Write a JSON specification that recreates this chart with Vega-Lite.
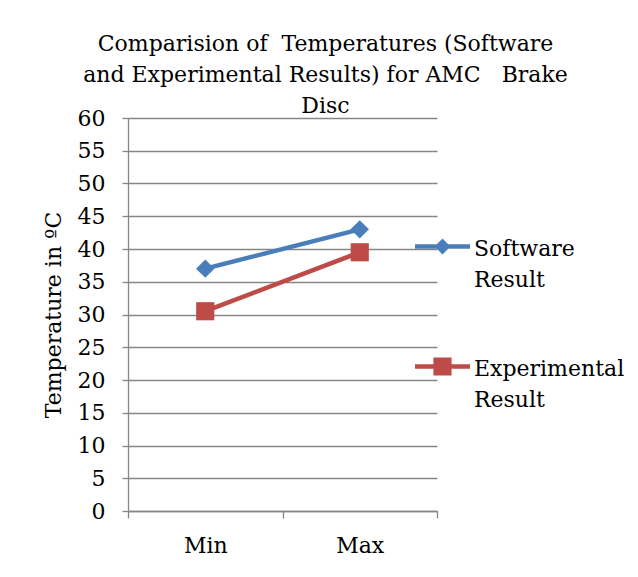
{
  "$schema": "https://vega.github.io/schema/vega-lite/v6.json",
  "width": 309,
  "height": 393,
  "autosize": "none",
  "padding": {"left": 128, "top": 118, "right": 201, "bottom": 66},
  "background": "white",
  "title": {
    "text": ["Comparision of\u00a0 Temperatures (Software", "and Experimental Results) for AMC\u00a0\u00a0 Brake", "Disc"],
    "font": "DejaVu Serif",
    "fontSize": 22,
    "fontWeight": "normal",
    "color": "black",
    "lineHeight": 31,
    "anchor": "middle",
    "frame": "group",
    "dx": 43,
    "offset": -11
  },
  "data": {
    "values": [
      {"cat": "Min", "series": "Software Result", "temp": 37},
      {"cat": "Max", "series": "Software Result", "temp": 43},
      {"cat": "Min", "series": "Experimental Result", "temp": 30.5},
      {"cat": "Max", "series": "Experimental Result", "temp": 39.5}
    ]
  },
  "encoding": {
    "x": {
      "field": "cat",
      "type": "nominal",
      "sort": ["Min", "Max"],
      "scale": {"type": "band", "paddingInner": 0, "paddingOuter": 0},
      "axis": {
        "title": null,
        "labelAngle": 0,
        "tickBand": "extent",
        "tickSize": 7,
        "tickColor": "#868686",
        "tickWidth": 1.3,
        "domainColor": "#868686",
        "domainWidth": 1.3,
        "labelFont": "DejaVu Serif",
        "labelFontSize": 22,
        "labelColor": "black",
        "labelPadding": 17,
        "grid": false
      }
    },
    "y": {
      "field": "temp",
      "type": "quantitative",
      "scale": {"domain": [0, 60], "nice": false, "zero": true},
      "axis": {
        "values": [0, 5, 10, 15, 20, 25, 30, 35, 40, 45, 50, 55, 60],
        "title": "Temperature in ºC",
        "titleFont": "DejaVu Serif",
        "titleFontSize": 22,
        "titleFontWeight": "normal",
        "titleColor": "black",
        "titlePadding": 12,
        "grid": true,
        "gridColor": "#868686",
        "gridWidth": 1.3,
        "domainColor": "#868686",
        "domainWidth": 1.3,
        "tickColor": "#868686",
        "tickWidth": 1.3,
        "tickSize": 6,
        "labelFont": "DejaVu Serif",
        "labelFontSize": 22,
        "labelColor": "black",
        "labelPadding": 17
      }
    }
  },
  "layer": [
    {
      "transform": [{"filter": "datum.series == 'Software Result'"}],
      "mark": {"type": "line", "strokeWidth": 4.5, "color": "#4A7EBB"},
      "encoding": {}
    },
    {
      "transform": [{"filter": "datum.series == 'Experimental Result'"}],
      "mark": {"type": "line", "strokeWidth": 4.5, "color": "#BE4B48"},
      "encoding": {}
    },
    {
      "transform": [{"filter": "datum.series == 'Software Result'"}],
      "mark": {"type": "point", "shape": "diamond", "filled": true, "opacity": 1, "size": 340, "color": "#4A7EBB"}
    },
    {
      "transform": [{"filter": "datum.series == 'Experimental Result'"}],
      "mark": {"type": "point", "shape": "square", "filled": true, "opacity": 1, "size": 330, "color": "#BE4B48"}
    },
    {
      "mark": {"type": "point", "filled": true, "size": 1, "opacity": 0},
      "encoding": {
        "color": {
          "field": "series",
          "type": "nominal",
          "scale": {"domain": ["Software Result", "Experimental Result"], "range": ["#4A7EBB", "#BE4B48"]},
          "legend": {
            "orient": "none",
            "legendX": 286,
            "legendY": 109,
            "title": null,
            "symbolSize": 3025,
            "labelFont": "DejaVu Serif",
            "labelFontSize": 22,
            "labelColor": "black",
            "labelBaseline": "alphabetic",
            "labelOffset": 3,
            "labelLimit": 300,
            "rowPadding": 56,
            "labelExpr": "split(datum.label, ' ')",
            "symbolOpacity": 1,
            "padding": 0
          }
        },
        "shape": {
          "field": "series",
          "type": "nominal",
          "scale": {
            "domain": ["Software Result", "Experimental Result"],
            "range": [
              "M-1,-0.409H1V-0.245H-1ZM0,-0.617L0.29,-0.327L0,-0.037L-0.29,-0.327Z",
              "M-1,-0.409H1V-0.245H-1ZM-0.33,-0.657H0.33V0.003H-0.33Z"
            ]
          },
          "legend": {
            "orient": "none",
            "legendX": 286,
            "legendY": 109,
            "title": null,
            "symbolSize": 3025,
            "labelFont": "DejaVu Serif",
            "labelFontSize": 22,
            "labelColor": "black",
            "labelBaseline": "alphabetic",
            "labelOffset": 3,
            "labelLimit": 300,
            "rowPadding": 56,
            "labelExpr": "split(datum.label, ' ')",
            "symbolOpacity": 1,
            "padding": 0
          }
        }
      }
    }
  ],
  "config": {
    "view": {"stroke": null},
    "style": {"guide-label": {"lineHeight": 31}}
  }
}
